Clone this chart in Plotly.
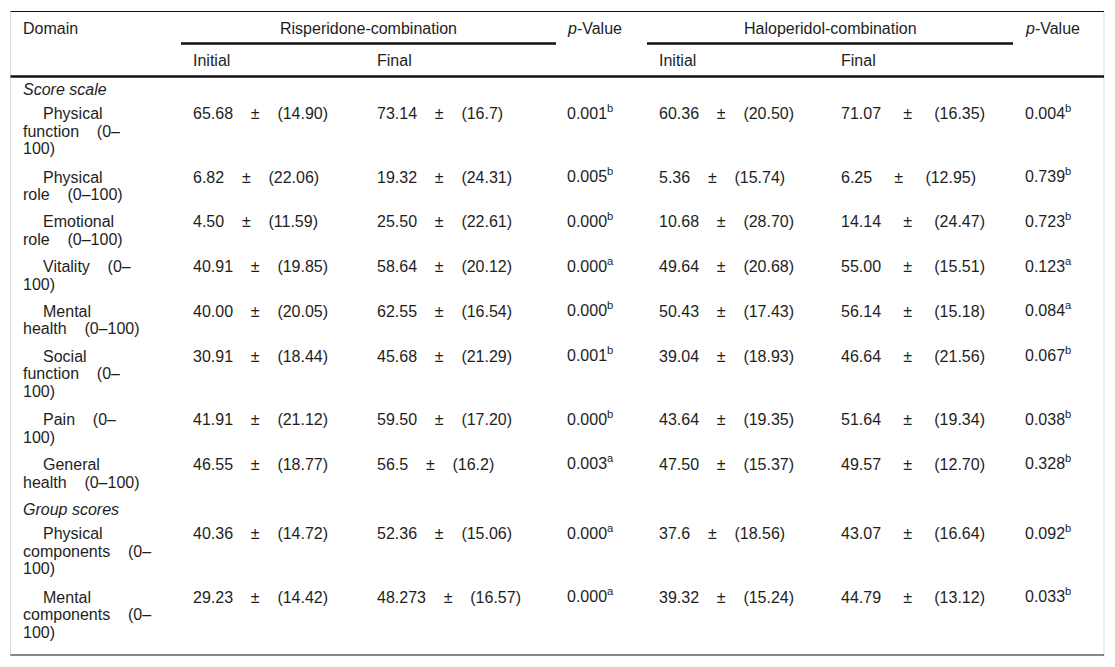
import plotly.graph_objects as go

# contenu du tableau
sections = ["Score scale", "Group scores"]
debut_section = [0, 8]

domaines = [
    ["Physical", "function (0–", "100)"],
    ["Physical", "role (0–100)"],
    ["Emotional", "role (0–100)"],
    ["Vitality (0–", "100)"],
    ["Mental", "health (0–100)"],
    ["Social", "function (0–", "100)"],
    ["Pain (0–", "100)"],
    ["General", "health (0–100)"],
    ["Physical", "components (0–", "100)"],
    ["Mental", "components (0–", "100)"],
]

risp_initial_moy = ["65.68", "6.82", "4.50", "40.91", "40.00", "30.91", "41.91", "46.55", "40.36", "29.23"]
risp_initial_et = ["14.90", "22.06", "11.59", "19.85", "20.05", "18.44", "21.12", "18.77", "14.72", "14.42"]
risp_final_moy = ["73.14", "19.32", "25.50", "58.64", "62.55", "45.68", "59.50", "56.5", "52.36", "48.273"]
risp_final_et = ["16.7", "24.31", "22.61", "20.12", "16.54", "21.29", "17.20", "16.2", "15.06", "16.57"]
risp_p = ["0.001", "0.005", "0.000", "0.000", "0.000", "0.001", "0.000", "0.003", "0.000", "0.000"]
risp_p_note = ["b", "b", "b", "a", "b", "b", "b", "a", "a", "a"]

halo_initial_moy = ["60.36", "5.36", "10.68", "49.64", "50.43", "39.04", "43.64", "47.50", "37.6", "39.32"]
halo_initial_et = ["20.50", "15.74", "28.70", "20.68", "17.43", "18.93", "19.35", "15.37", "18.56", "15.24"]
halo_final_moy = ["71.07", "6.25", "14.14", "55.00", "56.14", "46.64", "51.64", "49.57", "43.07", "44.79"]
halo_final_et = ["16.35", "12.95", "24.47", "15.51", "15.18", "21.56", "19.34", "12.70", "16.64", "13.12"]
halo_p = ["0.004", "0.739", "0.723", "0.123", "0.084", "0.067", "0.038", "0.328", "0.092", "0.033"]
halo_p_note = ["b", "b", "b", "a", "a", "b", "b", "b", "b", "b"]

# mise en page (pixels de la page, la marge du body fait 8 px)
police = "Liberation Sans, Arial, sans-serif"
taille = 16
couleur = "#1e1e1e"
nb = "\u00a0"

x_domaine = 20.5
retrait = 20
x_cols = [190.5, 374.5, 564.5, 656.5, 839, 1023]
gauche, droite = 10.5, 1104
haut, bas = 11.5, 655
interligne = 17.6
pas_ligne, marge_ligne, pas_section = 19, 25.7, 24.5
decalage_sup = -2

annotations = []
def texte(x, y, t, xanchor="left"):
    annotations.append(dict(x=x, y=y, xref="x", yref="y", text=t, showarrow=False,
                            xanchor=xanchor, yanchor="middle", align="left",
                            font=dict(family=police, size=taille, color=couleur)))

def moy_et(m, e, espace=4):
    return m + nb * espace + "±" + nb * espace + "(" + e + ")"

def p_valeur(p, note):
    return p + "<sup>" + note + "</sup>"

# en-têtes
texte(x_domaine, 28, "Domain")
texte((181 + 556) / 2, 28, "Risperidone-combination", "center")
texte(x_cols[2], 28, "<i>p</i>-Value")
texte((647 + 1013) / 2, 28, "Haloperidol-combination", "center")
texte(x_cols[5], 28, "<i>p</i>-Value")
for c, nom in zip([0, 1, 3, 4], ["Initial", "Final", "Initial", "Final"]):
    texte(x_cols[c], 60.5, nom)

# lignes du tableau
y = 89
for i in range(len(domaines)):
    if i in debut_section:
        texte(x_domaine, y, "<i>" + sections[debut_section.index(i)] + "</i>")
        y += pas_section
    for k, ligne in enumerate(domaines[i]):
        texte(x_domaine + (retrait if k == 0 else 0), y + k * interligne,
              ligne.replace(" ", nb * 4))
    texte(x_cols[0], y, moy_et(risp_initial_moy[i], risp_initial_et[i]))
    texte(x_cols[1], y, moy_et(risp_final_moy[i], risp_final_et[i]))
    texte(x_cols[2], y + decalage_sup, p_valeur(risp_p[i], risp_p_note[i]))
    texte(x_cols[3], y, moy_et(halo_initial_moy[i], halo_initial_et[i]))
    texte(x_cols[4], y, moy_et(halo_final_moy[i], halo_final_et[i], 5))
    texte(x_cols[5], y + decalage_sup, p_valeur(halo_p[i], halo_p_note[i]))
    y += (len(domaines[i]) - 1) * pas_ligne + marge_ligne

def trait(x0, y0, x1, y1, w, c="#111"):
    return dict(type="line", xref="x", yref="y", x0=x0, y0=y0, x1=x1, y1=y1,
                line=dict(color=c, width=w))

shapes = [
    trait(gauche, haut, gauche, bas, 1, "#d9d9d9"),
    trait(droite, haut, droite, bas, 1, "#d9d9d9"),
    trait(gauche, haut, droite, haut, 1),
    trait(181, 43.5, 556, 43.5, 2.5),
    trait(647, 43.5, 1013, 43.5, 2.5),
    trait(gauche, 76.5, droite, 76.5, 2.5),
    trait(gauche, bas, droite, bas, 1),
]

fig = go.Figure()
fig.update_layout(width=1107, height=659, margin=dict(l=0, r=0, t=0, b=0),
                  paper_bgcolor="white", plot_bgcolor="white",
                  annotations=annotations, shapes=shapes, showlegend=False)
fig.update_xaxes(range=[8, 1115], visible=False, fixedrange=True)
fig.update_yaxes(range=[667, 8], visible=False, fixedrange=True)
fig.write_html("out.html")
